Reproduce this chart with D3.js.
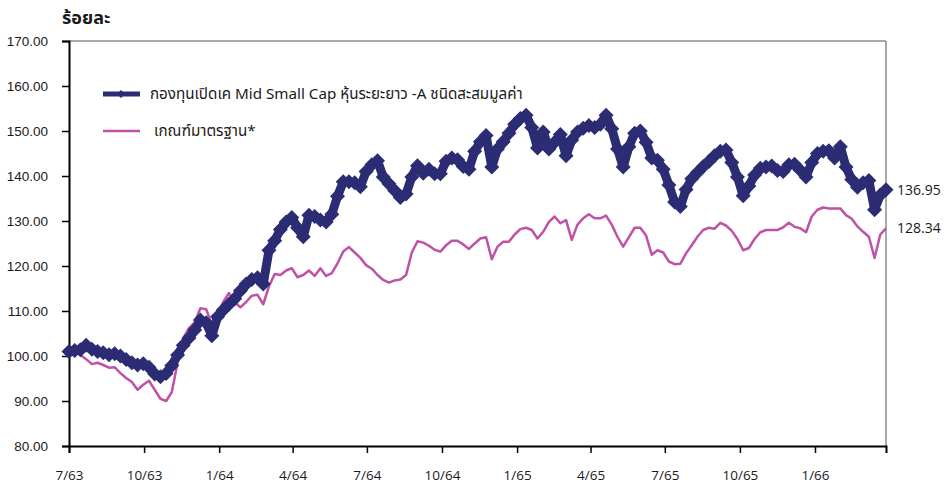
<!DOCTYPE html>
<html>
<head>
<meta charset="utf-8">
<script src="https://cdn.jsdelivr.net/npm/d3@7"></script>
<style>
  body { margin: 0; background: #fff; }
  svg text { fill: #1a1a1a; }
</style>
</head>
<body>
<div class="layout"></div>
<script>
// weekly values, first point 1 Jul 2020 (7/63), last point 29 Mar 2023
var startDate = "2020-07-01";
var endDate = "2023-03-29";

var fundName = "กองทุนเปิดเค Mid Small Cap หุ้นระยะยาว -A ชนิดสะสมมูลค่า";
var benchName = "เกณฑ์มาตรฐาน*";

var fundValues = [
  101.0, 101.2, 101.4, 102.4, 101.5, 101.0, 100.7, 100.3, 100.5, 100.0,
  99.2, 98.5, 98.0, 98.3, 97.5, 96.0, 95.4, 96.1, 97.9, 100.2,
  102.4, 104.0, 105.8, 108.0, 107.4, 104.5, 108.7, 110.2, 111.5, 112.7,
  114.5, 116.0, 117.0, 117.4, 116.0, 123.5, 125.6, 128.1, 129.8, 130.8,
  128.5, 126.5, 131.3, 131.0, 130.2, 129.8, 131.5, 135.5, 138.7, 138.7,
  138.5, 137.6, 141.0, 142.5, 143.4, 139.8, 138.3, 136.8, 135.2, 136.0,
  139.8, 142.3, 140.6, 141.5, 140.5, 140.5, 143.3, 144.0, 143.6, 142.1,
  141.5, 145.5, 147.6, 149.0, 142.0, 146.0, 147.6, 149.5, 151.5, 152.8,
  153.5, 150.8, 146.2, 149.8, 146.0, 147.5, 149.2, 144.5, 148.0, 149.8,
  150.6, 151.2, 150.8, 151.5, 153.5, 150.5, 146.0, 142.0, 146.5, 149.5,
  150.0, 147.5, 144.0, 143.5, 141.5, 138.0, 134.2, 133.2, 137.0, 139.4,
  140.8, 142.1, 143.2, 144.5, 145.5, 145.8, 143.0, 139.8, 135.6, 137.8,
  140.2, 141.7, 142.0, 142.2, 141.2, 141.0, 142.5, 142.6, 141.3, 139.8,
  143.0, 145.0, 145.5, 145.6, 144.0, 146.5, 142.0, 139.2, 137.5, 138.5,
  139.0, 132.5, 135.8, 136.95
];

var benchValues = [
  100.8, 101.0, 100.2, 99.3, 98.2, 98.5, 98.0, 97.4, 97.5, 96.2,
  95.1, 94.2, 92.5, 93.6, 94.5, 92.5, 90.5, 90.0, 92.0, 98.5,
  104.0, 106.2, 107.5, 110.6, 110.4, 107.0, 109.5, 112.0, 114.0, 112.0,
  110.8, 112.0, 113.4, 113.6, 111.5, 115.5, 118.2, 118.0, 119.0, 119.5,
  117.5, 118.0, 119.0, 117.8, 119.5, 117.8, 118.4, 120.6, 123.2, 124.2,
  123.0, 121.8, 120.2, 119.4, 118.0, 116.9, 116.3, 116.8, 117.0, 118.0,
  123.0, 125.5, 125.2, 124.5, 123.6, 123.2, 124.6, 125.6, 125.6, 124.8,
  123.8, 125.0, 126.1, 126.4, 121.5, 124.3, 125.4, 125.4, 127.0, 128.2,
  128.5, 128.0, 126.1, 127.6, 129.8, 131.0, 129.5, 130.2, 125.8, 129.2,
  130.6, 131.5, 130.6, 130.6, 131.2, 129.2, 126.5, 124.3, 126.4, 128.5,
  128.5, 126.8, 122.5, 123.5, 123.0, 121.0, 120.4, 120.5, 122.8, 124.6,
  126.5, 128.0, 128.5, 128.3, 129.6, 129.0, 127.8, 126.0, 123.5, 124.0,
  126.0, 127.5, 128.0, 128.0, 128.0, 128.6, 129.6, 128.7, 128.4, 127.5,
  131.0, 132.5, 133.0, 132.8, 132.8, 132.8, 131.3, 130.5, 128.8, 127.6,
  126.5, 121.8, 127.0, 128.34
];

var tickDates = ["2020-07-01", "2020-10-01", "2021-01-01", "2021-04-01", "2021-07-01", "2021-10-01",
                 "2022-01-01", "2022-04-01", "2022-07-01", "2022-10-01", "2023-01-01"];
var tickLabels = ["7/63", "10/63", "1/64", "4/64", "7/64", "10/64", "1/65", "4/65", "7/65", "10/65", "1/66"];
var yTicks = [80, 90, 100, 110, 120, 130, 140, 150, 160, 170];

var fundColor = "#2b2c74";
var benchColor = "#bf52a6";

function makeChart() {
  var parse = d3.timeParse("%Y-%m-%d");
  var dates = d3.timeDay.range(parse(startDate), d3.timeDay.offset(parse(endDate), 1), 7);

  var left = 69, right = 886, top = 41, bottom = 446;

  var svg = d3.select("div.layout")
    .append("svg")
    .attr("width", 949)
    .attr("height", 485);

  var x = d3.scaleTime()
    .domain([parse(startDate), parse(endDate)])
    .range([left, right]);

  var y = d3.scaleLinear()
    .domain([80, 170])
    .range([bottom, top]);

  // title
  svg.append("text")
    .attr("x", 62)
    .attr("y", 24)
    .attr("font-family", "'Noto Sans Thai', 'Tahoma', sans-serif")
    .attr("font-size", "18px")
    .attr("font-weight", "bold")
    .text("ร้อยละ");

  // frame: grey top and right, black axes
  svg.append("line")
    .attr("x1", left).attr("x2", right).attr("y1", top).attr("y2", top)
    .attr("stroke", "#8c8c8c").attr("stroke-width", 1.5);
  svg.append("line")
    .attr("x1", right).attr("x2", right).attr("y1", top).attr("y2", bottom)
    .attr("stroke", "#8c8c8c").attr("stroke-width", 1.5);

  var yAxis = d3.axisLeft(y)
    .tickValues(yTicks)
    .tickSize(7)
    .tickPadding(14)
    .tickFormat(d3.format(".2f"));

  svg.append("g")
    .attr("transform", "translate(" + left + ",0)")
    .call(yAxis)
    .call(function (g) {
      g.select(".domain").attr("stroke", "#000").attr("stroke-width", 2);
      g.selectAll(".tick line").attr("stroke", "#000").attr("stroke-width", 1.5);
      g.selectAll(".tick text")
        .attr("font-family", "'Liberation Sans', Arial, sans-serif")
        .attr("font-size", "13.5px")
        .attr("fill", "#1a1a1a");
    });

  var xAxis = d3.axisBottom(x)
    .tickValues(tickDates.map(parse))
    .tickSize(7)
    .tickPadding(17)
    .tickFormat(function (d, i) { return tickLabels[i]; });

  svg.append("g")
    .attr("transform", "translate(0," + bottom + ")")
    .call(xAxis)
    .call(function (g) {
      g.select(".domain").attr("stroke", "#000").attr("stroke-width", 2);
      g.selectAll(".tick line").attr("stroke", "#000").attr("stroke-width", 1.5);
      g.selectAll(".tick text")
        .attr("font-family", "'Open Sans', sans-serif")
        .attr("font-size", "13.5px")
        .attr("fill", "#1a1a1a");
    });

  var line = d3.line()
    .x(function (d, i) { return x(dates[i]); })
    .y(function (d) { return y(d); });

  // benchmark line
  svg.append("path")
    .datum(benchValues)
    .attr("fill", "none")
    .attr("stroke", benchColor)
    .attr("stroke-width", 2.5)
    .attr("stroke-linejoin", "round")
    .attr("d", line);

  // fund line with diamond markers
  svg.append("path")
    .datum(fundValues)
    .attr("fill", "none")
    .attr("stroke", fundColor)
    .attr("stroke-width", 9)
    .attr("stroke-linejoin", "round")
    .attr("d", line);

  svg.selectAll("path.marker")
    .data(fundValues)
    .enter()
    .append("path")
    .attr("class", "marker")
    .attr("fill", fundColor)
    .attr("d", "M0,-7.5L7.5,0L0,7.5L-7.5,0Z")
    .attr("transform", function (d, i) {
      return "translate(" + x(dates[i]) + "," + y(d) + ")";
    });

  // last values on the right
  svg.selectAll("text.last")
    .data([fundValues[fundValues.length - 1], benchValues[benchValues.length - 1]])
    .enter()
    .append("text")
    .attr("class", "last")
    .attr("x", right + 11)
    .attr("y", function (d) { return y(d) + 5; })
    .attr("font-family", "'Open Sans', sans-serif")
    .attr("font-size", "14px")
    .text(function (d) { return d3.format(".2f")(d); });

  // legend
  var legend = svg.append("g");

  legend.append("line")
    .attr("x1", 103).attr("x2", 140).attr("y1", 94).attr("y2", 94)
    .attr("stroke", fundColor).attr("stroke-width", 5);
  legend.append("path")
    .attr("d", "M0,-4L4,0L0,4L-4,0Z")
    .attr("fill", fundColor)
    .attr("transform", "translate(121,94)");
  legend.append("text")
    .attr("x", 150).attr("y", 99)
    .attr("font-family", "'Noto Sans Thai', Tahoma, sans-serif")
    .attr("font-size", "15.2px")
    .text(fundName);

  legend.append("line")
    .attr("x1", 103).attr("x2", 140).attr("y1", 131).attr("y2", 131)
    .attr("stroke", benchColor).attr("stroke-width", 2.5);
  legend.append("text")
    .attr("x", 154).attr("y", 136)
    .attr("font-family", "'Noto Sans Thai', Tahoma, sans-serif")
    .attr("font-size", "15.2px")
    .text(benchName);
}

makeChart();
</script>
</body>
</html>
